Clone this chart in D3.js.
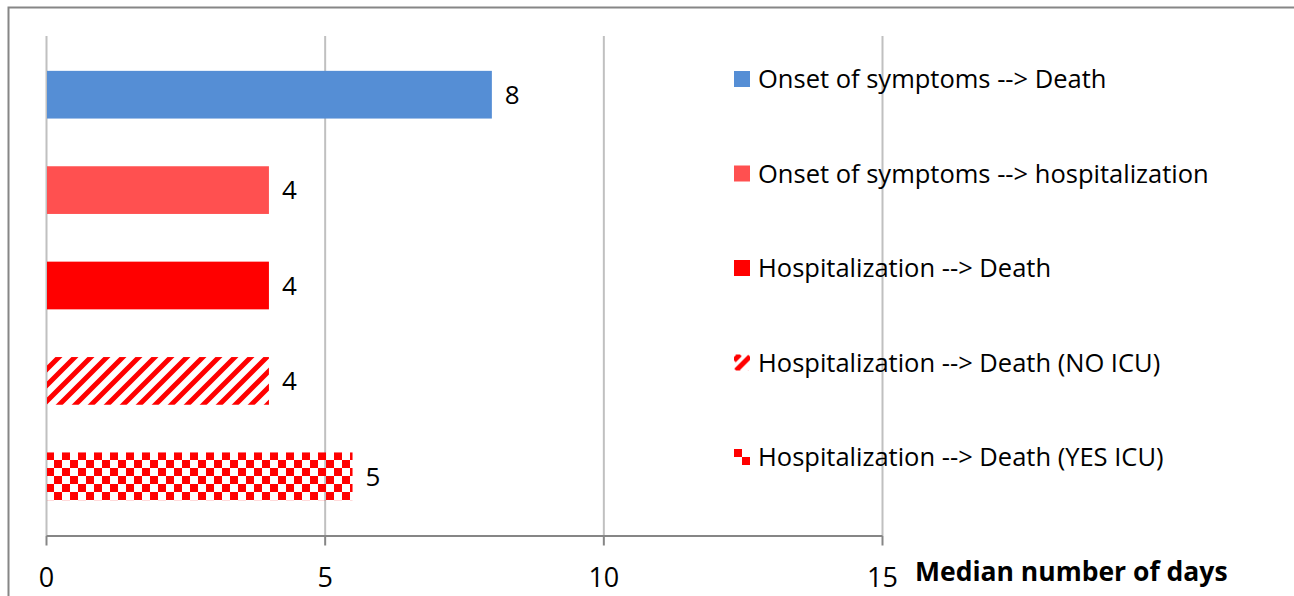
<!DOCTYPE html>
<html>
<head>
<meta charset="utf-8">
<script src="https://cdn.jsdelivr.net/npm/d3@7"></script>
<style>
	body { margin: 0; background: #fff; }
	text { font-family: "Open Sans", sans-serif; }
</style>
</head>
<body>
<div id="chart"></div>
<script>
// categories, top to bottom
var categories = [
	"Onset of symptoms --> Death",
	"Onset of symptoms --> hospitalization",
	"Hospitalization --> Death",
	"Hospitalization --> Death (NO ICU)",
	"Hospitalization --> Death (YES ICU)"
];

// median number of days
var values = [8, 4, 4, 4, 5.5];

// labels printed next to the bars
var valueLabels = ["8", "4", "4", "4", "5"];

// x axis ticks
var xTicks = [0, 5, 10, 15];

// fill for each bar (pattern ids for the last two)
var fills = ["#558ed5", "#ff5050", "#ff0000", "url(#hatch)", "url(#checker)"];
var keyFills = ["#558ed5", "#ff5050", "#ff0000", "url(#hatchKey)", "url(#checkerKey)"];

var width = 1294, height = 596;

/**
 * renders the chart
 */
function renderChart(container)
{
	var svg = d3.select(container).append("svg")
		.attr("width", width)
		.attr("height", height);

	// patterns for the ICU bars
	var defs = svg.append("defs");

	var hatch = defs.append("pattern")
		.attr("id", "hatch")
		.attr("patternUnits", "userSpaceOnUse")
		.attr("width", 16)
		.attr("height", 16);
	hatch.append("path")
		.attr("d", "M0,16 L16,0 M-4,4 L4,-4 M12,20 L20,12")
		.attr("stroke", "#ff0000")
		.attr("stroke-width", 5);

	var checker = defs.append("pattern")
		.attr("id", "checker")
		.attr("patternUnits", "userSpaceOnUse")
		.attr("x", 46)
		.attr("y", 452)
		.attr("width", 16)
		.attr("height", 16);
	checker.append("rect").attr("width", 8).attr("height", 8).attr("fill", "#ff0000");
	checker.append("rect").attr("x", 8).attr("y", 8).attr("width", 8).attr("height", 8).attr("fill", "#ff0000");

	// legend keys get their own copies, sized to the key box
	var hatchKey = defs.append("pattern")
		.attr("id", "hatchKey")
		.attr("patternUnits", "objectBoundingBox")
		.attr("width", 1)
		.attr("height", 1);
	hatchKey.append("path")
		.attr("d", "M2,16 L16,2 M0,6 L6,0")
		.attr("stroke", "#ff0000")
		.attr("stroke-width", 5);

	var checkerKey = defs.append("pattern")
		.attr("id", "checkerKey")
		.attr("patternUnits", "objectBoundingBox")
		.attr("width", 1)
		.attr("height", 1);
	checkerKey.append("rect").attr("width", 8).attr("height", 8).attr("fill", "#ff0000");
	checkerKey.append("rect").attr("x", 8).attr("y", 8).attr("width", 8).attr("height", 8).attr("fill", "#ff0000");

	// outer frame (left and top only visible)
	svg.append("path")
		.attr("d", "M8.5," + height + " L8.5,7.5 L" + width + ",7.5")
		.attr("fill", "none")
		.attr("stroke", "#868686")
		.attr("stroke-width", 2);

	// scales
	var x = d3.scaleLinear().domain([0, 15]).range([46, 882]);
	var y = d3.scaleBand().domain(categories).range([47, 524]).paddingInner(0.5).paddingOuter(0.25);

	// vertical gridlines
	svg.append("g").selectAll("line")
		.data(xTicks)
		.join("line")
		.attr("x1", function (d) { return x(d) + 0.5; })
		.attr("x2", function (d) { return x(d) + 0.5; })
		.attr("y1", 36)
		.attr("y2", 535)
		.attr("stroke", "#c0c0c0")
		.attr("stroke-width", 2);

	// bars
	svg.append("g").selectAll("rect")
		.data(values)
		.join("rect")
		.attr("x", x(0) + 1)
		.attr("y", function (d, i) { return y(categories[i]); })
		.attr("width", function (d) { return x(d) - x(0) - 1; })
		.attr("height", y.bandwidth())
		.attr("fill", function (d, i) { return fills[i]; });

	// value labels
	svg.append("g").selectAll("text")
		.data(values)
		.join("text")
		.attr("x", function (d) { return x(d) + 13; })
		.attr("y", function (d, i) { return y(categories[i]) + y.bandwidth() / 2; })
		.attr("dy", "0.36em")
		.attr("font-size", 26)
		.attr("fill", "#000")
		.text(function (d, i) { return valueLabels[i]; });

	// x axis
	var axis = svg.append("g")
		.attr("transform", "translate(0,535.5)")
		.call(d3.axisBottom(x).tickValues(xTicks).tickSize(10).tickPadding(22).tickSizeOuter(0));
	axis.select(".domain").attr("stroke", "#868686").attr("stroke-width", 2);
	axis.selectAll(".tick line").attr("stroke", "#868686").attr("stroke-width", 2);
	axis.selectAll(".tick text")
		.attr("font-size", 27)
		.attr("font-family", "'Open Sans', sans-serif")
		.attr("fill", "#000");

	// axis title
	svg.append("text")
		.attr("x", 915)
		.attr("y", 581)
		.attr("font-size", 26.5)
		.attr("font-weight", "bold")
		.attr("fill", "#000")
		.text("Median number of days");

	// legend
	var legend = svg.append("g").selectAll("g")
		.data(categories)
		.join("g")
		.attr("transform", function (d, i) { return "translate(734," + (70 + i * 94.5) + ")"; });
	legend.append("rect")
		.attr("y", 1)
		.attr("width", 16)
		.attr("height", 16)
		.attr("fill", function (d, i) { return keyFills[i]; });
	legend.append("text")
		.attr("x", 24)
		.attr("y", 9)
		.attr("dy", "0.36em")
		.attr("font-size", 25.5)
		.attr("fill", "#000")
		.text(function (d) { return d; });
}

renderChart("#chart");
</script>
</body>
</html>
